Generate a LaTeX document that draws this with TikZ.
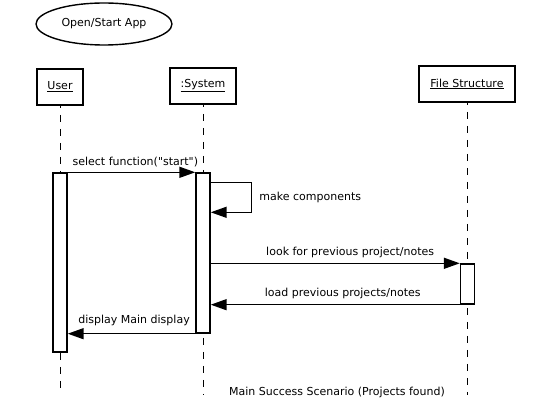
\documentclass[tikz,border=0pt]{standalone}
\usepackage{fontspec}
\setmainfont{DejaVu Sans}
\usetikzlibrary{arrows.meta,shapes.geometric}

\def\lifeend{395}
\tikzstyle{object}=[draw=black, line width=1.6pt, fill=white, minimum height=36pt, inner sep=2pt]
\tikzstyle{activation}=[draw=black, line width=1.4pt, fill=white, minimum width=14pt, inner sep=0pt]
\tikzstyle{lifeline}=[draw=black, line width=0.9pt, dash pattern=on 7pt off 7pt]
\tikzstyle{msg}=[line width=1.5pt, -{Triangle[length=16pt, width=11pt]}]
\tikzstyle{lbl}=[font=\fontsize{11}{13}\selectfont, inner sep=1pt]

\begin{document}
\begin{tikzpicture}[x=1pt, y=-1pt]
  \useasboundingbox (0,0) rectangle (552,411);

  % use case
  \node [draw, ellipse, line width=1.4pt, minimum width=136pt, minimum height=42pt, lbl] (usecase) at (104,24) {Open/Start App};

  % objects and lifelines
  \foreach \name/\x/\y/\w/\txt in {user/60/87/46/User, sys/203/86/66/:System, file/467/84/96/File Structure}
  {
    \coordinate (\name-end) at (\x,\lifeend);
    \draw [lifeline] (\x,\y) -- (\name-end);
    \node [object, lbl, minimum width=\w pt] (\name) at (\x,\y) {\underline{\txt}};
  }

  % activations
  \node [activation, minimum height=179pt] (user-act) at (60,262.5) {};
  \node [activation, minimum height=160pt] (sys-act) at (203,253) {};
  \node [activation, minimum height=40pt] (file-act) at (467.5,284) {};

  % messages
  \draw [msg] (user-act.north east) -- (sys-act.north west)
  node [lbl, above=4pt, pos=0.53] {select function(\textquotedbl start\textquotedbl)};

  \coordinate (self-out) at ([yshift=-10pt]sys-act.north east);
  \draw [msg] (self-out) -- ++(41,0) -- ++(0,30)
  node [lbl, right=6pt, pos=0.5] {make components} -- ++(-41,0);

  \draw [msg] (sys-act.east |- file-act.north) -- (file-act.north west)
  node [lbl, above=4pt, pos=0.56] {look for previous project/notes};

  \draw [msg] (file-act.south west) -- (sys-act.east |- file-act.south)
  node [lbl, above=4pt, pos=0.47] {load previous projects/notes};

  \draw [msg] (sys-act.south west) -- (user-act.east |- sys-act.south)
  node [lbl, above=6pt, pos=0.48] {display Main display};

  % scenario caption
  \node [lbl] (caption) at (337,392) {Main Success Scenario (Projects found)};
\end{tikzpicture}
\end{document}
